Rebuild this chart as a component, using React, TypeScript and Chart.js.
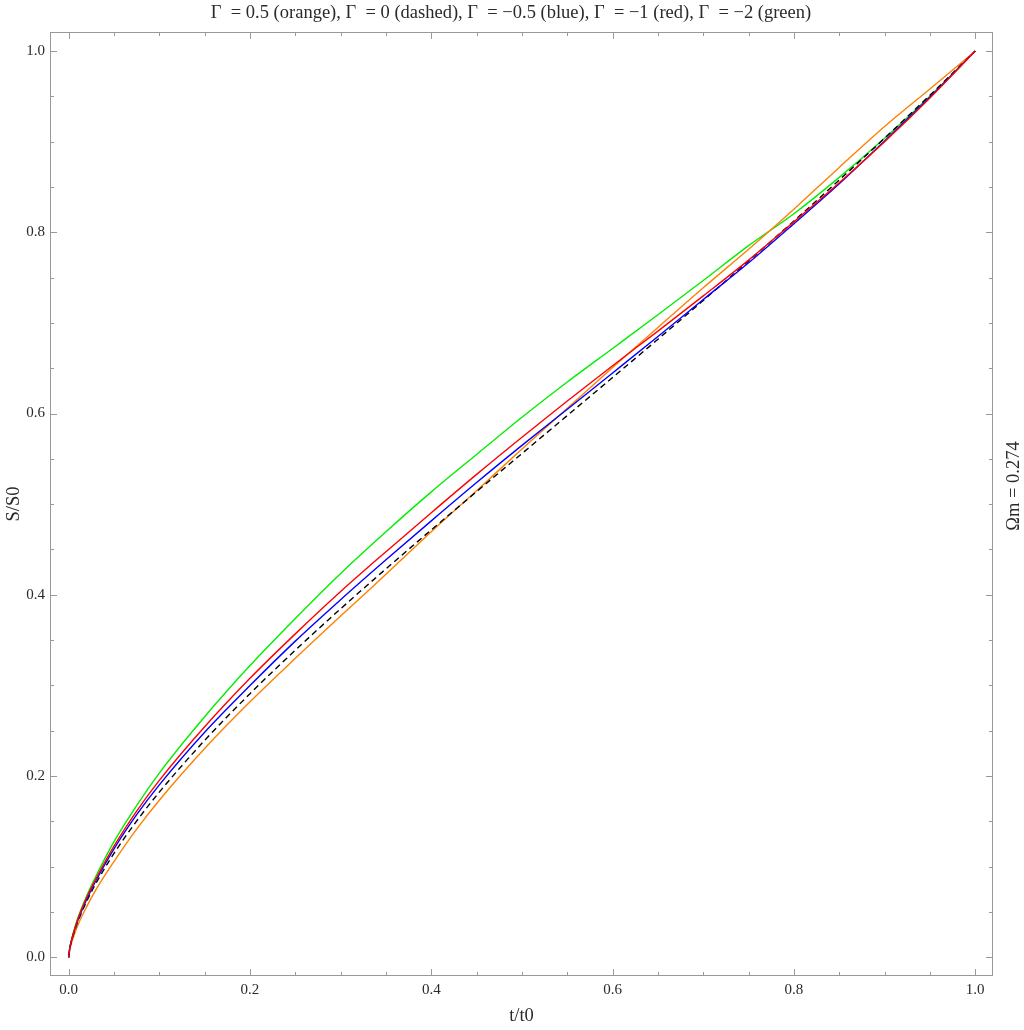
import React, { useEffect, useRef } from "react";
import { Chart, registerables } from "chart.js";

Chart.register(...registerables);

// t/t0 sample positions
const tValues = [0, 0.001, 0.0025, 0.005, 0.01, 0.02, 0.03, 0.05, 0.075, 0.1, 0.15, 0.2, 0.25, 0.3, 0.35, 0.4, 0.45, 0.5, 0.55, 0.6, 0.65, 0.7, 0.75, 0.8, 0.85, 0.9, 0.95, 1];

// S/S0 for each Γ
const gammaHalfOrange = [0, 0.0072, 0.0136, 0.0217, 0.0352, 0.0562, 0.0745, 0.1057, 0.1414, 0.1733, 0.2304, 0.2819, 0.3299, 0.3766, 0.4226, 0.4696, 0.5149, 0.5609, 0.6058, 0.6508, 0.695, 0.7388, 0.7813, 0.8255, 0.8716, 0.9168, 0.9582, 1];
const gammaZeroDashed = [0, 0.0084, 0.0156, 0.0247, 0.0392, 0.0622, 0.0815, 0.1147, 0.1504, 0.1823, 0.2394, 0.2909, 0.3389, 0.3846, 0.4286, 0.4716, 0.5139, 0.5559, 0.5978, 0.6398, 0.682, 0.7248, 0.7683, 0.8125, 0.8576, 0.9038, 0.9512, 1];
const gammaMinusHalfBlue = [0, 0.0086, 0.0159, 0.0253, 0.0404, 0.0642, 0.0845, 0.1197, 0.1574, 0.1903, 0.2484, 0.2999, 0.3489, 0.3946, 0.4386, 0.4816, 0.5239, 0.5649, 0.6048, 0.6448, 0.685, 0.7258, 0.7663, 0.8095, 0.8536, 0.9008, 0.9492, 1];
const gammaMinusOneRed = [0, 0.0087, 0.0162, 0.0257, 0.0417, 0.0662, 0.0865, 0.1227, 0.1614, 0.1953, 0.2544, 0.3079, 0.3569, 0.4036, 0.4476, 0.4906, 0.5329, 0.5739, 0.6138, 0.6528, 0.691, 0.7298, 0.7693, 0.8115, 0.8546, 0.8998, 0.9482, 1];
const gammaMinusTwoGreen = [0, 0.0089, 0.0166, 0.0267, 0.0432, 0.0682, 0.0895, 0.1277, 0.1674, 0.2033, 0.2654, 0.3219, 0.3739, 0.4236, 0.4696, 0.5136, 0.5549, 0.5959, 0.6348, 0.6718, 0.709, 0.7468, 0.7853, 0.8205, 0.8606, 0.9038, 0.9502, 1];

const majorTicks = [0, 0.2, 0.4, 0.6, 0.8, 1.0];
const minorTicks = [0.05, 0.1, 0.15, 0.25, 0.3, 0.35, 0.45, 0.5, 0.55, 0.65, 0.7, 0.75, 0.85, 0.9, 0.95];

const TITLE = "Γ  = 0.5 (orange), Γ  = 0 (dashed), Γ  = −0.5 (blue), Γ  = −1 (red), Γ  = −2 (green)";
const X_TITLE = "t/t0";
const Y_TITLE = "S/S0";
const SIDE_LABEL = "Ωm = 0.274";

const FONT = "'Liberation Serif', 'Times New Roman', serif";
const TEXT_COLOR = "#2a2a2a";
const FRAME_COLOR = "#999";

const toPoints = (ys: number[]) => tValues.map((t, i) => ({ x: t, y: ys[i] }));

const framePlugin = {
  id: "frameTicks",
  afterDatasetsDraw(chart: any) {
    const { ctx, chartArea } = chart;
    const xs = chart.scales.x;
    const ys = chart.scales.y;
    const { left, right, top, bottom } = chartArea;
    ctx.save();
    ctx.strokeStyle = FRAME_COLOR;
    ctx.lineWidth = 1;
    ctx.strokeRect(left + 0.5, top + 0.5, right - left - 1, bottom - top - 1);
    const drawTicks = (vals: number[], len: number) => {
      ctx.beginPath();
      for (const v of vals) {
        const px = Math.round(xs.getPixelForValue(v)) + 0.5;
        ctx.moveTo(px, bottom);
        ctx.lineTo(px, bottom - len);
        ctx.moveTo(px, top);
        ctx.lineTo(px, top + len);
        const py = Math.round(ys.getPixelForValue(v)) + 0.5;
        ctx.moveTo(left, py);
        ctx.lineTo(left + len, py);
        ctx.moveTo(right, py);
        ctx.lineTo(right - len, py);
      }
      ctx.stroke();
    };
    drawTicks(majorTicks, 7);
    drawTicks(minorTicks, 4);
    ctx.restore();
  },
  afterDraw(chart: any) {
    const { ctx } = chart;
    ctx.save();
    ctx.fillStyle = TEXT_COLOR;
    ctx.font = `18.5px ${FONT}`;
    ctx.textAlign = "center";
    ctx.textBaseline = "middle";
    ctx.fillText(TITLE, 511, 13);
    ctx.translate(1014, 486);
    ctx.rotate(-Math.PI / 2);
    ctx.fillText(SIDE_LABEL, 0, 0);
    ctx.restore();
  },
};

export default function App() {
  const ref = useRef<HTMLCanvasElement>(null);
  useEffect(() => {
    if (!ref.current) return;
    const common = { pointRadius: 0, borderWidth: 1.4, fill: false, cubicInterpolationMode: "monotone" as const };
    const chart = new Chart(ref.current, {
      type: "line",
      data: {
        datasets: [
          { label: "Γ = −1", data: toPoints(gammaMinusOneRed), borderColor: "#ff0000", ...common },
          { label: "Γ = −0.5", data: toPoints(gammaMinusHalfBlue), borderColor: "#0000ff", ...common },
          { label: "Γ = 0", data: toPoints(gammaZeroDashed), borderColor: "#000000", borderDash: [6, 4], ...common },
          { label: "Γ = 0.5", data: toPoints(gammaHalfOrange), borderColor: "#ff8000", ...common },
          { label: "Γ = −2", data: toPoints(gammaMinusTwoGreen), borderColor: "#00ee00", ...common },
        ],
      },
      options: {
        responsive: false,
        animation: false,
        devicePixelRatio: 1,
        layout: { padding: { top: 32, right: 31, left: 0, bottom: 0 } },
        plugins: { legend: { display: false }, tooltip: { enabled: false }, title: { display: false } },
        scales: {
          x: {
            type: "linear",
            min: -0.0206,
            max: 1.0196,
            grid: { display: false, drawTicks: false },
            border: { display: false },
            ticks: {
              font: { family: FONT, size: 15 },
              color: TEXT_COLOR,
              padding: 5,
              maxRotation: 0,
              autoSkip: false,
              callback: (v: any) => Number(v).toFixed(1),
            },
            afterBuildTicks: (s: any) => {
              s.ticks = majorTicks.map((v) => ({ value: v }));
            },
            afterFit: (s: any) => {
              s.height = 54;
            },
            title: { display: true, text: X_TITLE, font: { family: FONT, size: 18.5 }, color: TEXT_COLOR, padding: { top: 0, bottom: 3 } },
          },
          y: {
            type: "linear",
            min: -0.0206,
            max: 1.021,
            grid: { display: false, drawTicks: false },
            border: { display: false },
            ticks: {
              font: { family: FONT, size: 15 },
              color: TEXT_COLOR,
              padding: 5,
              autoSkip: false,
              callback: (v: any) => Number(v).toFixed(1),
            },
            afterBuildTicks: (s: any) => {
              s.ticks = majorTicks.map((v) => ({ value: v }));
            },
            afterFit: (s: any) => {
              s.width = 50;
            },
            title: { display: true, text: Y_TITLE, font: { family: FONT, size: 18.5 }, color: TEXT_COLOR, padding: { top: 3, bottom: 0 } },
          },
        },
      },
      plugins: [framePlugin],
    });
    return () => chart.destroy();
  }, []);
  return (
    <div style={{ position: "fixed", left: 0, top: 0, width: 1024, height: 1030, background: "#fff" }}>
      <canvas ref={ref} width={1024} height={1030} style={{ display: "block" }} />
    </div>
  );
}
